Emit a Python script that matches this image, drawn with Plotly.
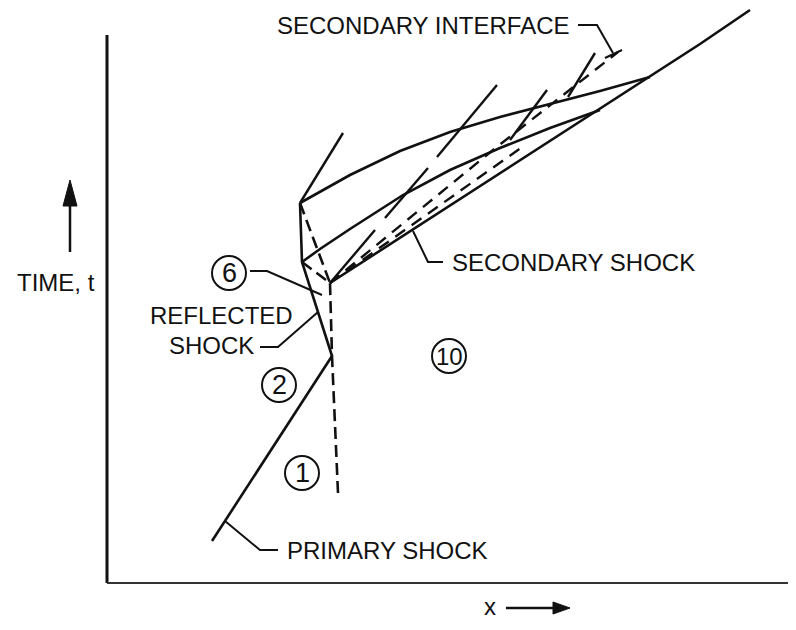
import plotly.graph_objects as go

# ---- schematic data (x, t) in drawing units ----
axis_v_x = [107, 107]; axis_v_t = [35, 583]
axis_h_x = [107, 796]; axis_h_t = [583, 583]

primary_x = [212, 332]; primary_t = [541, 356]
reflected_x = [332, 302, 300]; reflected_t = [356, 262, 203]
contact_x = [338, 332, 330]; contact_t = [493, 356, 283]
a_to_j_x = [300, 330, None, 302, 330]; a_to_j_t = [203, 283, None, 262, 283]
upper_x = [300, 350, 400, 450, 500, 550, 600, 650]
upper_t = [203, 175, 151, 132, 117, 104, 91, 77]
middle_x = [302, 320, 350, 403, 450, 500, 550, 600]
middle_t = [262, 249, 229, 195, 170, 148, 128, 110]
secondary_x = [330, 650, 700, 750]; secondary_t = [283, 77, 44, 10]
char_x = [300, 343, None, 330, 375, None, 385, 428, None, 437, 497, None,
          510, 547, None, 568, 595]
char_t = [203, 133, None, 283, 230, None, 218, 168, None, 157, 85, None,
          140, 90, None, 97, 53]
interface_x = [330, 493, 618]; interface_t = [283, 150, 52]
interface2_x = [330, 525]; interface2_t = [283, 145]

# leader lines
leaders_x = [578, 597, 613, None, 605, 622, None,
             413, 428, 443, None,
             225, 260, 278, None,
             260, 278, 318, None,
             250, 267, 322]
leaders_t = [25, 25, 53, None, 58, 50, None,
             231, 262, 262, None,
             521, 550, 550, None,
             347, 347, 312, None,
             271, 271, 295]

time_arrow_x = [70, 70]; time_arrow_t = [252, 200]
time_head_x = [63, 77, 70, 63]; time_head_t = [206, 206, 180, 206]
x_arrow_x = [506, 556]; x_arrow_t = [608, 608]
x_head_x = [553, 553, 570, 553]; x_head_t = [602, 614, 608, 602]

labels = ["SECONDARY INTERFACE", "SECONDARY SHOCK", "TIME, t", "REFLECTED", "SHOCK",
          "PRIMARY SHOCK", "x"]
label_x = [275, 450, 15, 148, 167, 285, 482]
label_t = [25, 262, 282, 315, 345, 550, 606]

region_labels = ["1", "2", "6", "10"]
region_x = [302, 279, 229, 449]
region_t = [473, 385, 273, 356]
region_r = 17

FONT = "Liberation Sans, Arial, sans-serif"
BLACK = "#111"
PAGE_MARGIN = 8  # default body margin of the html page

fig = go.Figure()

def add_line(xs, ts, width=2.6, dash="solid", color=BLACK, fill=None):
    fig.add_trace(go.Scatter(x=xs, y=ts, mode="lines",
                             line=dict(color=color, width=width, dash=dash),
                             fill=fill, fillcolor=color if fill else None,
                             hoverinfo="skip", showlegend=False))

add_line(axis_v_x, axis_v_t, width=3)
add_line(axis_h_x, axis_h_t, width=2, color="#333")
add_line(primary_x, primary_t)
add_line(reflected_x, reflected_t)
add_line(contact_x, contact_t, dash="12px,6px")
add_line(a_to_j_x, a_to_j_t, dash="12px,6px")
add_line(upper_x, upper_t)
add_line(middle_x, middle_t)
add_line(secondary_x, secondary_t)
add_line(char_x, char_t, width=2.4)
add_line(interface_x, interface_t, dash="12px,8px", width=2.4)
add_line(interface2_x, interface2_t, dash="12px,8px", width=2.4)
add_line(leaders_x, leaders_t, width=2)
add_line(time_arrow_x, time_arrow_t, width=2.5)
add_line(time_head_x, time_head_t, width=1, fill="toself")
add_line(x_arrow_x, x_arrow_t, width=2.5)
add_line(x_head_x, x_head_t, width=1, fill="toself")

for txt, xx, tt in zip(labels, label_x, label_t):
    fig.add_annotation(x=xx, y=tt, text=txt, showarrow=False, xanchor="left",
                       yanchor="middle", font=dict(family=FONT, size=24, color=BLACK))

for txt, xx, tt in zip(region_labels, region_x, region_t):
    fig.add_shape(type="circle", x0=xx - region_r, x1=xx + region_r,
                  y0=tt - region_r, y1=tt + region_r,
                  line=dict(color=BLACK, width=2))
    fig.add_annotation(x=xx, y=tt, text=txt, showarrow=False, xanchor="center",
                       yanchor="middle",
                       font=dict(family=FONT, size=27 if len(txt) == 1 else 24, color=BLACK))

W, H = 796, 630
fig.update_layout(width=W - PAGE_MARGIN, height=H - 2 * PAGE_MARGIN, autosize=False,
                  margin=dict(l=0, r=0, t=0, b=0),
                  paper_bgcolor="white", plot_bgcolor="white",
                  xaxis=dict(range=[PAGE_MARGIN, W], visible=False, fixedrange=True),
                  yaxis=dict(range=[H - PAGE_MARGIN, PAGE_MARGIN], visible=False,
                             fixedrange=True))

fig.write_html("out.html")
